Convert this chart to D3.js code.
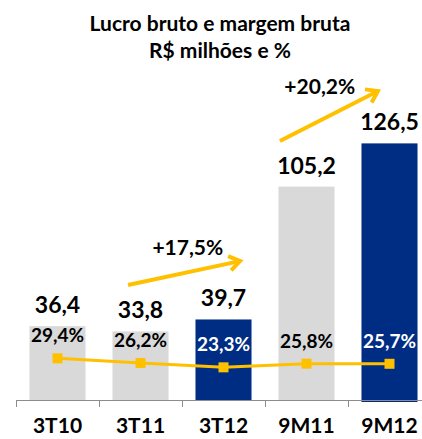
<!DOCTYPE html>
<html><head><meta charset="utf-8">
<script src="https://cdn.jsdelivr.net/npm/d3@7"></script>
<style>html,body{margin:0;padding:0;background:#fff;}svg{display:block;font-family:Lato,"Open Sans",sans-serif;}</style>
</head><body>
<script>
const categories = ["3T10","3T11","3T12","9M11","9M12"];
const grossProfit = [36.4, 33.8, 39.7, 105.2, 126.5];
const grossMargin = [29.4, 26.2, 23.3, 25.8, 25.7];
const valueLabels = ["36,4","33,8","39,7","105,2","126,5"];
const marginLabels = ["29,4%","26,2%","23,3%","25,8%","25,7%"];
const highlight = [false, false, true, false, true];
const growthLabels = ["+17,5%","+20,2%"];
// arrows in data space: category index (fractional) and R$ value
const growthArrows = [
  {x0:0.85, v0:56.7, x1:2.2, v1:68.5, lx:1.57, lv:71.5},
  {x0:2.68, v0:127.7, x1:3.86, v1:152.3, lx:3.16, lv:150.8}
];

const W = 422, H = 439;
const svg = d3.select("body").append("svg").attr("width", W).attr("height", H);

const x = d3.scaleBand().domain(categories).range([16, 431]).paddingInner(0.325).paddingOuter(0.1625);
const y = d3.scaleLinear().domain([0, 140]).range([400, 116]);
const y2 = d3.scaleLinear().domain([0, 100]).range([401.7, 254.2]);
const xi = i => x(categories[0]) + x.bandwidth()/2 + i * x.step();

const gray = "#D9D9D9", navy = "#002D84", gold = "#FFC000";

// title
svg.append("text").attr("x", 220).attr("y", 31).attr("text-anchor","middle")
  .attr("font-size", 21).attr("font-weight", 700).text("Lucro bruto e margem bruta");
svg.append("text").attr("x", 220).attr("y", 58).attr("text-anchor","middle")
  .attr("font-size", 21).attr("font-weight", 700).text("R$ milhões e %");

// bars
svg.selectAll("rect.bar").data(categories).enter().append("rect")
  .attr("x", d => x(d)).attr("width", x.bandwidth())
  .attr("y", (d,i) => y(grossProfit[i]))
  .attr("height", (d,i) => y(0) - y(grossProfit[i]) + (i === 4 ? 2 : 0))
  .attr("fill", (d,i) => highlight[i] ? navy : gray);

// axis
const axisColor = "#8C8C8C";
svg.append("line").attr("x1", 16).attr("x2", W).attr("y1", 400.5).attr("y2", 400.5)
  .attr("stroke", axisColor).attr("stroke-width", 1);
const bounds = categories.map(d => x(d) - x.step()*x.paddingInner()/2);
svg.selectAll("line.tick").data(bounds).enter().append("line")
  .attr("x1", d => Math.round(d)+0.5).attr("x2", d => Math.round(d)+0.5)
  .attr("y1", 400).attr("y2", 407).attr("stroke", axisColor);

// x labels
svg.selectAll("text.xl").data(categories).enter().append("text")
  .attr("x", d => x(d) + x.bandwidth()/2).attr("y", 433)
  .attr("text-anchor","middle").attr("font-size", 21).attr("font-weight", 700)
  .text(d => d);

// value labels
svg.selectAll("text.vl").data(categories).enter().append("text")
  .attr("x", d => x(d) + x.bandwidth()/2)
  .attr("y", (d,i) => y(grossProfit[i]) - 13)
  .attr("text-anchor","middle").attr("font-size", 23).attr("font-weight", 700)
  .text((d,i) => valueLabels[i]);

// margin line
const line = d3.line().x((d,i) => x(categories[i]) + x.bandwidth()/2).y(d => y2(d));
svg.append("path").datum(grossMargin).attr("d", line)
  .attr("fill","none").attr("stroke", gold).attr("stroke-width", 3);
svg.selectAll("rect.mk").data(grossMargin).enter().append("rect")
  .attr("x", (d,i) => x(categories[i]) + x.bandwidth()/2 - 5)
  .attr("y", d => y2(d) - 5).attr("width", 10).attr("height", 10).attr("fill", gold);

// margin labels
svg.selectAll("text.ml").data(grossMargin).enter().append("text")
  .attr("x", (d,i) => x(categories[i]) + x.bandwidth()/2)
  .attr("y", d => y2(d) - 16)
  .attr("text-anchor","middle").attr("font-size", 19).attr("font-weight", 700)
  .attr("fill", (d,i) => highlight[i] ? "#fff" : "#000")
  .text((d,i) => marginLabels[i]);

// growth arrows
growthArrows.forEach((a, k) => {
  const sx = xi(a.x0), sy = y(a.v0), ex = xi(a.x1), ey = y(a.v1);
  const ang = Math.atan2(ey - sy, ex - sx);
  const len = 13, spread = 0.6;
  svg.append("line").attr("x1", sx).attr("y1", sy).attr("x2", ex - Math.cos(ang)*1.5).attr("y2", ey - Math.sin(ang)*1.5)
    .attr("stroke", gold).attr("stroke-width", 4);
  const p1 = [ex - len*Math.cos(ang - spread), ey - len*Math.sin(ang - spread)];
  const p2 = [ex - len*Math.cos(ang + spread), ey - len*Math.sin(ang + spread)];
  svg.append("path").attr("d", `M${p1[0]},${p1[1]}L${ex},${ey}L${p2[0]},${p2[1]}`)
    .attr("fill","none").attr("stroke", gold).attr("stroke-width", 4)
    .attr("stroke-linejoin","miter").attr("stroke-linecap","butt");
  svg.append("text").attr("x", xi(a.lx)).attr("y", y(a.lv))
    .attr("text-anchor","middle").attr("font-size", 21).attr("font-weight", 700)
    .text(growthLabels[k]);
});
</script>
</body></html>
